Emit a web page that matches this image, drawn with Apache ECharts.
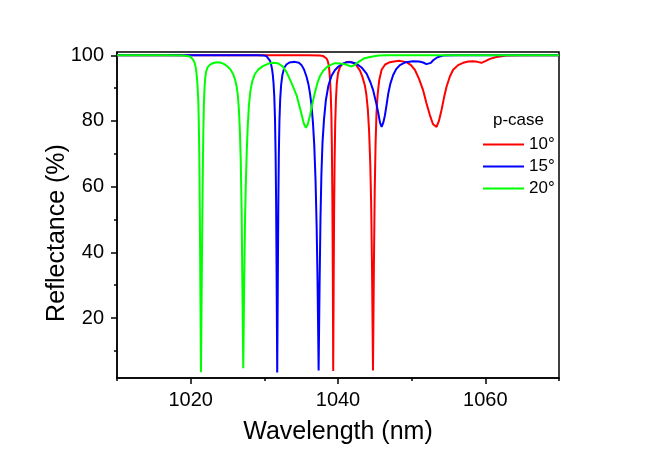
<!DOCTYPE html>
<html><head><meta charset="utf-8">
<script src="https://cdn.jsdelivr.net/npm/echarts@6/dist/echarts.min.js"></script>
<style>html,body{margin:0;padding:0;background:#fff}#c{width:650px;height:454px}</style>
</head><body><div id="c"></div>
<script>
// Axis ticks
const xTicks = [1020, 1040, 1060];
const xMinorTicks = [1010, 1030, 1050, 1070];
const yTicks = [20, 40, 60, 80, 100];
const yMinorTicks = [10, 30, 50, 70, 90];
const seriesNames = ['10°', '15°', '20°'];
const legendTitle = 'p-case';

// 10° (red): [wavelength nm, reflectance %]
const red10 = [[1010,100],[1036,100],[1037.5,99.9],[1038.0,99.75],[1038.22,99.5],[1038.45,99.0],[1038.6,98.3],[1038.72,97.2],[1038.82,95.5],[1038.92,92.5],[1039.02,88],[1039.1,82],[1039.17,72],[1039.24,55],[1039.3,32],[1039.35,3.9],[1039.41,30],[1039.47,52],[1039.54,68],[1039.62,79],[1039.72,86.5],[1039.84,91.5],[1040.0,94.5],[1040.26,96.4],[1040.6,97.3],[1041.17,97.9],[1041.6,98],[1042.06,97.7],[1042.5,96.9],[1042.97,95.4],[1043.3,93.5],[1043.65,90.8],[1043.85,88],[1044.05,83.5],[1044.22,77],[1044.38,67],[1044.5,55],[1044.62,35],[1044.75,4],[1044.87,35],[1044.98,58],[1045.1,73],[1045.22,82],[1045.38,88],[1045.6,92.5],[1045.92,95.6],[1046.4,97.2],[1047.04,97.9],[1047.8,98.2],[1048.4,98.3],[1049.31,97.9],[1049.9,97],[1050.43,95.6],[1051.0,92.8],[1051.56,89.3],[1052.0,85.5],[1052.47,81.8],[1052.9,79],[1053.38,78.2],[1053.7,80],[1054.06,83.4],[1054.4,87.2],[1054.74,90.5],[1055.2,93.6],[1055.63,95.6],[1056.3,97],[1056.99,97.7],[1057.7,98.1],[1058.34,98.2],[1058.9,98],[1059.48,97.7],[1060.0,98.2],[1060.61,98.9],[1061.52,99.5],[1062.88,99.9],[1065,100],[1070,100]];

// 15° (blue)
const blue15 = [[1010,100],[1029,100],[1030.0,99.9],[1030.31,99.7],[1030.55,99.2],[1030.76,98.4],[1030.92,97.2],[1031.05,95.8],[1031.15,94],[1031.25,91.5],[1031.35,87.5],[1031.45,80.5],[1031.53,70],[1031.6,55],[1031.67,32],[1031.75,3.4],[1031.83,32],[1031.9,55],[1031.97,70],[1032.05,80],[1032.15,86.5],[1032.28,91],[1032.45,94],[1032.7,96.2],[1033.0,97.2],[1033.4,97.8],[1034.15,98],[1034.7,97.7],[1035.06,97],[1035.4,95.6],[1035.74,93.4],[1036.0,91],[1036.2,88.4],[1036.4,84.8],[1036.6,79.5],[1036.78,72.5],[1036.95,62],[1037.1,48],[1037.22,32],[1037.37,4],[1037.5,30],[1037.62,50],[1037.75,64],[1037.9,73.5],[1038.1,80.5],[1038.35,86.3],[1038.7,90.8],[1039.13,93.8],[1039.6,95.5],[1040.03,96.5],[1040.6,97.4],[1041.17,97.9],[1041.8,97.9],[1042.52,97.4],[1043.2,96.3],[1043.88,94.4],[1044.4,91.8],[1044.78,89.3],[1045.2,85.3],[1045.46,82.5],[1045.7,79.5],[1045.92,78.2],[1046.15,79.5],[1046.36,81.6],[1046.6,85],[1046.81,88.2],[1047.1,91.3],[1047.49,94],[1047.9,95.8],[1048.4,97],[1049.2,97.9],[1050.2,98.2],[1051.0,98.1],[1051.56,97.8],[1052.0,97.3],[1052.24,97.2],[1052.6,97.7],[1052.92,98.5],[1053.5,99.4],[1054.27,99.9],[1056,100],[1070,100]];

// 20° (green)
const green20 = [[1010,100],[1017,100],[1019.0,99.9],[1019.9,99.6],[1020.2,99.0],[1020.45,98.2],[1020.6,97.2],[1020.72,95.8],[1020.81,94.2],[1020.92,91.2],[1021.03,86.5],[1021.1,80],[1021.17,70],[1021.25,50],[1021.32,28],[1021.40,3.5],[1021.48,25],[1021.56,45],[1021.65,65],[1021.72,77],[1021.8,85.5],[1021.88,90],[1021.97,93],[1022.1,95],[1022.3,96.3],[1022.6,97.1],[1023.0,97.6],[1023.5,97.9],[1024.0,97.8],[1024.5,97.4],[1025.0,96.6],[1025.4,95.7],[1025.78,94.2],[1026.05,92.4],[1026.24,90.5],[1026.4,87.8],[1026.55,83.5],[1026.68,77],[1026.8,68],[1026.92,52],[1027.02,30],[1027.14,4.7],[1027.25,28],[1027.38,50],[1027.5,62],[1027.62,71],[1027.75,78.5],[1027.9,84.5],[1028.1,89],[1028.35,92],[1028.72,94.3],[1029.2,95.7],[1029.8,96.7],[1030.5,97.4],[1031.2,97.7],[1031.8,97.6],[1032.5,96.6],[1033.03,94.8],[1033.7,91.5],[1034.38,87.8],[1035.0,82.5],[1035.35,79.3],[1035.64,77.9],[1035.9,79],[1036.19,81.6],[1036.5,85],[1036.87,88.7],[1037.2,91.5],[1037.54,93.6],[1038.0,95.3],[1038.45,96.3],[1039.0,97.1],[1039.58,97.6],[1040.26,97.5],[1041.1,97.2],[1041.5,96.8],[1041.85,96.6],[1042.3,97.1],[1042.74,97.9],[1043.5,99],[1044.33,99.5],[1045.5,99.9],[1046.59,100],[1070,100]];

const colors = ['#ff0000', '#0000ff', '#00ff00'];
const seriesData = [red10, blue15, green20];

const font = '"Liberation Sans", Arial, sans-serif';
const chart = echarts.init(document.getElementById('c'), null, {renderer: 'canvas'});
const tickStyle = {color: '#000', width: 1.5};
const plain = v => String(v);
chart.setOption({
  animation: false,
  textStyle: {fontFamily: font},
  grid: {left: 117, right: 91, top: 52, bottom: 76, show: true, borderColor: '#000', borderWidth: 1.5},
  xAxis: [{
    type: 'value', min: 1010, max: 1070,
    name: 'Wavelength (nm)', nameLocation: 'middle', nameGap: 42,
    nameTextStyle: {fontSize: 25, color: '#000', fontFamily: font},
    axisLine: {show: true, lineStyle: tickStyle},
    axisTick: {show: true, inside: false, length: 6, customValues: xTicks, lineStyle: tickStyle},
    axisLabel: {customValues: xTicks, formatter: plain, fontSize: 20, color: '#000', fontFamily: font, margin: 12},
    splitLine: {show: false}
  }, {
    type: 'value', min: 1010, max: 1070, position: 'bottom',
    axisLine: {show: false},
    axisTick: {show: true, inside: false, length: 3, customValues: xMinorTicks, lineStyle: tickStyle},
    axisLabel: {show: false}, splitLine: {show: false}
  }],
  yAxis: [{
    type: 'value', min: 1.75, max: 101,
    name: 'Reflectance (%)', nameLocation: 'middle', nameGap: 47, nameRotate: 90, nameMoveOverlap: false,
    nameTextStyle: {fontSize: 25, color: '#000', fontFamily: font, padding: [0, 36, 0, 0]},
    axisLine: {show: true, lineStyle: tickStyle},
    axisTick: {show: true, inside: false, length: 6, customValues: yTicks, lineStyle: tickStyle},
    axisLabel: {customValues: yTicks, formatter: plain, fontSize: 20, color: '#000', fontFamily: font, margin: 13},
    splitLine: {show: false}
  }, {
    type: 'value', min: 1.75, max: 101, position: 'left',
    axisLine: {show: false},
    axisTick: {show: true, inside: false, length: 3, customValues: yMinorTicks, lineStyle: tickStyle},
    axisLabel: {show: false}, splitLine: {show: false}
  }],
  legend: {
    orient: 'vertical', left: 478, top: 131, itemWidth: 41, itemHeight: 2, itemGap: 5,
    icon: 'rect',
    textStyle: {fontSize: 17, color: '#000', fontFamily: font},
    data: seriesNames
  },
  graphic: [{
    type: 'text', left: 493, top: 112,
    style: {text: legendTitle, fontSize: 17, fill: '#000', fontFamily: font}
  }],
  series: seriesNames.map((n, i) => ({
    name: n, type: 'line', xAxisIndex: 0, yAxisIndex: 0,
    data: seriesData[i], symbol: 'none', smooth: false, sampling: null,
    color: colors[i], lineStyle: {width: 2, color: colors[i]}, z: 2 + i
  }))
});
</script>
</body></html>
